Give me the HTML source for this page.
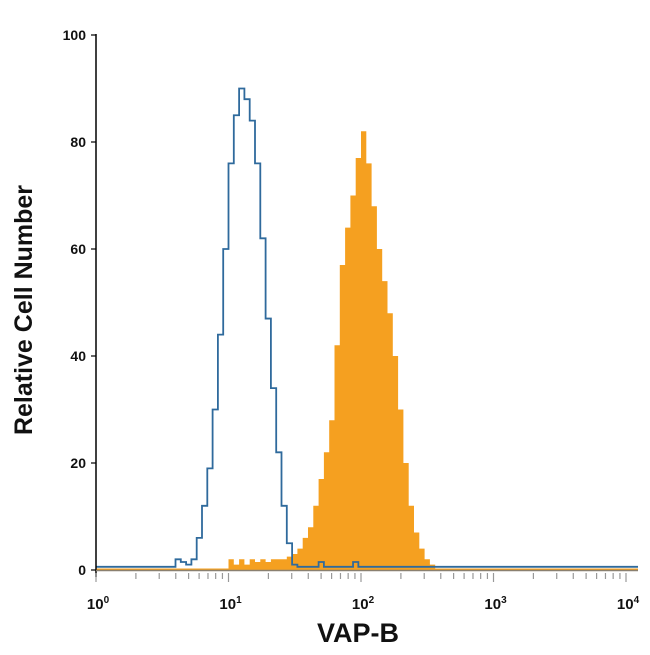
<!DOCTYPE html>
<html><head><meta charset="utf-8"><style>
body{margin:0;background:#fff;width:650px;height:650px;overflow:hidden}
svg text{font-family:"Liberation Sans",sans-serif}
</style></head><body>
<svg id="chart" width="650" height="650"></svg>
<script>
const yTicks=[0,20,40,60,80,100];
const xDecades=[0,1,2,3,4];
const blueBins=[0.60,0.64,0.68,0.72,0.76,0.80,0.84,0.88,0.92,0.96,1.00,1.04,1.08,1.12,1.16,1.20,1.24,1.28,1.32,1.36,1.40,1.44,1.48,1.52,1.64,1.68,1.72,1.90,1.94,1.98];
const blueVals=[2,1.5,1,2,6,12,19,30,44,60,76,85,90,88,84,76,62,47,34,22,12,5,1,0,0,1.5,0,0,1.5,0];
const orangeBins=[1.00,1.04,1.08,1.12,1.16,1.20,1.24,1.28,1.32,1.36,1.40,1.44,1.48,1.52,1.56,1.60,1.64,1.68,1.72,1.76,1.80,1.84,1.88,1.92,1.96,2.00,2.04,2.08,2.12,2.16,2.20,2.24,2.28,2.32,2.36,2.40,2.44,2.48,2.52,2.56];
const orangeVals=[2,1,2,1,2,1.5,2,1.5,2,2,2,2.5,3,4,6,8,12,17,22,28,42,57,64,70,77,82,76,68,60,54,48,40,30,20,12,7,4,2,1,0];

const NS="http://www.w3.org/2000/svg";
const svg=document.getElementById('chart');
const x0=96,dec=132.5,yb=570,ys=5.35,xEnd=638;
const X=l=>x0+l*dec, Y=v=>yb-v*ys;
function mk(t,a){const e=document.createElementNS(NS,t);for(const k in a)e.setAttribute(k,a[k]);svg.appendChild(e);return e;}

let d=`M${X(orangeBins[0])},${Y(0)}`;
orangeBins.forEach((b,i)=>{d+=` L${X(b)},${Y(orangeVals[i])} L${X(b+0.04)},${Y(orangeVals[i])}`;});
d+=` L${X(orangeBins[orangeBins.length-1]+0.04)},${Y(0)} Z`;
const o=mk('path',{d:d,fill:'#f5a020',stroke:'none'});


mk('rect',{x:x0,y:yb-1.5,width:xEnd-x0,height:1.5,fill:'#f5a020'});

let p=`M${x0},${Y(0.6)} L${X(blueBins[0])},${Y(0.6)}`;
blueBins.forEach((b,i)=>{const v=Math.max(blueVals[i],0.6);p+=` L${X(b)},${Y(v)} L${X(b+0.04)},${Y(v)}`;});
p+=` L${xEnd},${Y(0.6)}`;
const bl=mk('path',{d:p,fill:'none',stroke:'#2f6a9c','stroke-width':1.8});



mk('line',{x1:x0,y1:34,x2:x0,y2:577,stroke:'#000','stroke-width':1.5});
mk('line',{x1:x0,y1:yb+0.5,x2:xEnd,y2:yb+0.5,stroke:'#8a8070','stroke-width':1.5});
yTicks.forEach(t=>{
  mk('line',{x1:x0-5,y1:Y(t),x2:x0,y2:Y(t),stroke:'#000','stroke-width':1.2});
  const tx=mk('text',{x:x0-10,y:Y(t)+5,'text-anchor':'end','font-size':14,'font-weight':'bold',fill:'#111'});
  tx.textContent=t;
  
  
});
xDecades.forEach(k=>{
  for(let m=1;m<=9;m++){
    const l=k+Math.log10(m);
    if(X(l)>xEnd)break;
    mk('line',{x1:X(l),y1:yb+3,x2:X(l),y2:yb+(m===1?12:9),stroke:'#999','stroke-width':1.2});
  }
  const tx=mk('text',{x:X(k)+2,y:609,'text-anchor':'middle','font-size':15,'font-weight':'bold',fill:'#111'});
  tx.innerHTML='10<tspan dy="-6" font-size="10">'+k+'</tspan>';
  
  
});
const xt=mk('text',{x:358,y:642,'text-anchor':'middle','font-size':27,'font-weight':'bold',fill:'#111'});
xt.textContent='VAP-B';


const yt=mk('text',{x:0,y:0,'text-anchor':'middle','font-size':25,'font-weight':'bold',fill:'#111',transform:'translate(32,310) rotate(-90)'});
yt.textContent='Relative Cell Number';


</script>
</body></html>
